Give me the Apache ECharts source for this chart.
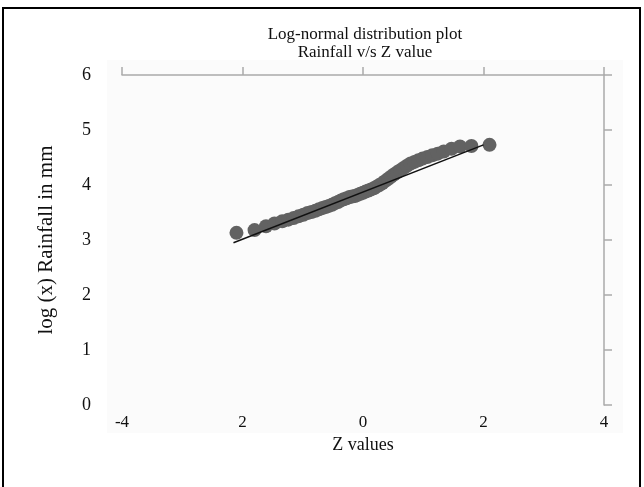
<!DOCTYPE html>
<html><head><meta charset="utf-8">
<script src="https://cdn.jsdelivr.net/npm/echarts@6/dist/echarts.min.js"></script>
<style>html,body{margin:0;padding:0;background:#fff}#c{width:644px;height:487px}</style>
</head><body><div id="c"></div>
<script>
const zValues = [-2.10,-1.80,-1.61,-1.47,-1.34,-1.24,-1.15,-1.07,-0.99,-0.92,-0.855,-0.79,-0.73,-0.674,-0.62,-0.566,-0.514,-0.464,-0.414,-0.366,-0.319,-0.272,-0.225,-0.18,-0.135,-0.09,-0.045,0,0.045,0.09,0.135,0.18,0.225,0.272,0.319,0.366,0.414,0.464,0.514,0.566,0.62,0.674,0.73,0.79,0.855,0.92,0.99,1.07,1.15,1.24,1.34,1.47,1.61,1.80,2.10];
const logRain = [3.13,3.18,3.25,3.30,3.34,3.37,3.40,3.43,3.46,3.49,3.51,3.53,3.56,3.58,3.60,3.62,3.64,3.67,3.69,3.72,3.74,3.76,3.78,3.79,3.80,3.82,3.84,3.86,3.88,3.90,3.92,3.94,3.97,4.00,4.03,4.07,4.11,4.15,4.19,4.23,4.27,4.31,4.35,4.39,4.42,4.45,4.48,4.51,4.54,4.57,4.61,4.66,4.70,4.71,4.73];
const fitX = [-2.15, 2.0];
const fitY = [2.95, 4.73];
const xTickLabels = ['-4','2','0','2','4'];
const yTickLabels = ['0','1','2','3','4','5','6'];

const font = 'Liberation Serif';
const chart = echarts.init(document.getElementById('c'));
const pts = zValues.map((z,i)=>[z, logRain[i]]);
const fit = fitX.map((x,i)=>[x, fitY[i]]);
const axCol = '#aaaaaa';
chart.setOption({
  animation:false,
  title:{text:'Log-normal distribution plot\nRainfall v/s Z value', left:360, top:21, textAlign:'center',
    textStyle:{fontFamily:font, fontSize:17, fontWeight:'normal', color:'#111', lineHeight:18}},
  grid:{left:122, right:40, top:75, bottom:82},
  graphic:[
    {type:'rect', z:-10, shape:{x:107,y:60,width:516,height:373}, style:{fill:'#fbfbfb'}},
    {type:'rect', z:100, shape:{x:3,y:8,width:637,height:490}, style:{fill:'none', stroke:'#000', lineWidth:2}}
  ],
  xAxis:[
    {type:'value', min:-4, max:4, interval:2, position:'bottom',
     axisLine:{show:false, onZero:false}, axisTick:{show:false}, splitLine:{show:false},
     axisLabel:{margin:9, fontFamily:font, fontSize:17, color:'#111',
       formatter:(v)=>xTickLabels[Math.round((v+4)/2)]},
     name:'Z values', nameLocation:'middle', nameGap:23,
     nameTextStyle:{fontFamily:font, fontSize:18, color:'#111'}},
    {type:'value', min:-4, max:4, interval:2, position:'top',
     axisLine:{show:true, onZero:false, lineStyle:{color:axCol, width:1.5}},
     axisTick:{show:true, inside:false, length:8, lineStyle:{color:axCol, width:1.5}},
     axisLabel:{show:false}, splitLine:{show:false}}
  ],
  yAxis:[
    {type:'value', min:0, max:6, interval:1, position:'left',
     axisLine:{show:false, onZero:false}, axisTick:{show:false}, splitLine:{show:false},
     axisLabel:{margin:31, fontFamily:font, fontSize:18, color:'#111',
       formatter:(v)=>yTickLabels[Math.round(v)]},
     name:'log (x) Rainfall in mm', nameLocation:'middle', nameGap:65, nameRotate:90,
     nameTextStyle:{fontFamily:font, fontSize:21, color:'#111'}},
    {type:'value', min:0, max:6, interval:1, position:'right',
     axisLine:{show:true, onZero:false, lineStyle:{color:axCol, width:1.5}},
     axisTick:{show:true, inside:false, length:8, lineStyle:{color:axCol, width:1.5}},
     axisLabel:{show:false}, splitLine:{show:false}}
  ],
  series:[
    {type:'scatter', data:pts, symbol:'circle', symbolSize:14,
     itemStyle:{color:'#626262', opacity:1}, z:2},
    {type:'line', data:fit, symbol:'none', lineStyle:{color:'#111', width:1.5}, z:3}
  ]
});
</script></body></html>
